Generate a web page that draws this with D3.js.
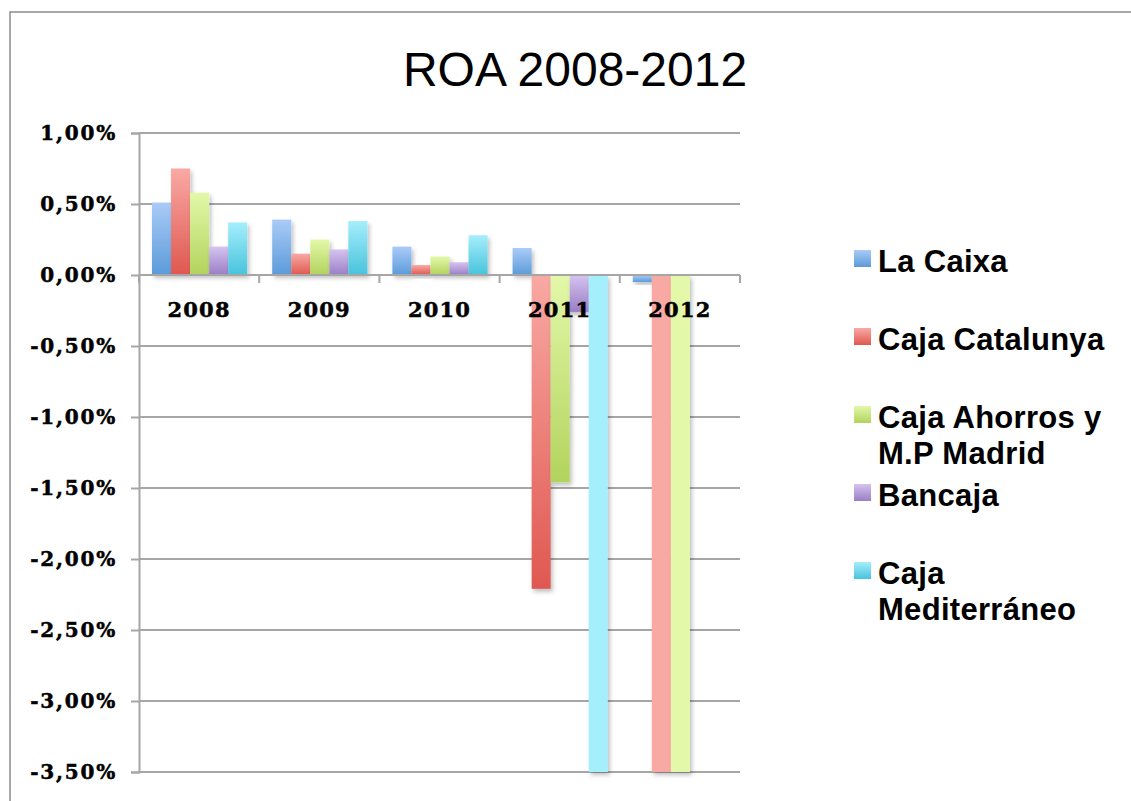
<!DOCTYPE html>
<html><head><meta charset="utf-8">
<script src="https://cdn.jsdelivr.net/npm/d3@7"></script>
<style>body{margin:0;background:#fff}</style>
</head><body>
<script>
const categories = ["2008","2009","2010","2011","2012"];
const seriesNames = ["La Caixa","Caja Catalunya","Caja Ahorros y M.P Madrid","Bancaja","Caja Mediterráneo"];
const legendLines = [["La Caixa"],["Caja Catalunya"],["Caja Ahorros y","M.P Madrid"],["Bancaja"],["Caja","Mediterráneo"]];
const laCaixa       = [0.51, 0.39, 0.20, 0.19, -0.05];
const cajaCatalunya = [0.75, 0.15, 0.07, -2.21, -3.5];
const cajaMadrid    = [0.58, 0.25, 0.13, -1.46, -3.5];
const bancaja       = [0.20, 0.18, 0.09, -0.26, null];
const cajaMed       = [0.37, 0.38, 0.28, -3.5, null];
const yTicks = [1, 0.5, 0, -0.5, -1, -1.5, -2, -2.5, -3, -3.5];
const seriesValues = [laCaixa, cajaCatalunya, cajaMadrid, bancaja, cajaMed];
const topColors = ["#aacbf8","#f9a9a4","#e3f8a9","#d5c3ef","#a5eefc"];
const botColors = ["#5b9bd9","#df5850","#b2d35d","#9a7ec5","#47c3dc"];

const W = 1131, H = 801;
const svg = d3.select("body").append("svg").attr("width", W).attr("height", H);
const defs = svg.append("defs");
seriesNames.forEach((s,i)=>{
  const g = defs.append("linearGradient").attr("id","g"+i).attr("x1",0).attr("y1",0).attr("x2",0).attr("y2",1);
  g.append("stop").attr("offset","0%").attr("stop-color",topColors[i]);
  g.append("stop").attr("offset","100%").attr("stop-color",botColors[i]);
});
const f = defs.append("filter").attr("id","sh").attr("x","-20%").attr("y","-20%").attr("width","160%").attr("height","160%");
f.append("feDropShadow").attr("dx",2).attr("dy",3).attr("stdDeviation",2).attr("flood-color","#000").attr("flood-opacity",0.25);

// outer frame
svg.append("rect").attr("x",10).attr("y",12).attr("width",W).attr("height",H).attr("fill","none").attr("stroke","#8c8c8c").attr("stroke-width",1.5);

// title
svg.append("text").attr("x",575).attr("y",86).attr("text-anchor","middle")
  .attr("font-family","Liberation Sans, Arial, sans-serif").attr("font-size",48).attr("fill","#000").text("ROA 2008-2012");

const x0 = 139, x1 = 740;
const y = d3.scaleLinear().domain([-3.5, 1]).range([772, 133]);
const xb = d3.scaleBand().domain(categories).range([x0, x1]);
const xs = d3.scaleBand().domain(seriesNames).range([13, xb.bandwidth()-12]);

// gridlines
svg.append("g").selectAll("line").data(yTicks).join("line")
  .attr("x1", x0).attr("x2", x1).attr("y1", d=>y(d)).attr("y2", d=>y(d))
  .attr("stroke","#a6a6a6").attr("stroke-width",2);

const serifFont = "'DejaVu Serif Bold', 'DejaVu Serif', serif";

// y axis
const yAxis = d3.axisLeft(y).tickValues(yTicks).tickSize(8).tickPadding(14)
  .tickFormat(d => (d < 0 ? "-" : "") + d3.format(".2f")(Math.abs(d)).replace(".",",") + "%");
const ya = svg.append("g").attr("transform",`translate(${x0},0)`).call(yAxis);
ya.attr("font-family", null).attr("font-size", null);
ya.select(".domain").attr("stroke","#a6a6a6").attr("stroke-width",2);
ya.selectAll(".tick line").attr("stroke","#a6a6a6").attr("stroke-width",2);
ya.selectAll(".tick text").style("font-family",serifFont).style("font-weight","900")
  .style("font-size","20px").style("letter-spacing","1.8px").attr("fill","#000")
  .attr("stroke","#000").attr("stroke-width",0.5);

// bars
const data = [];
categories.forEach((c,ci)=>seriesNames.forEach((s,si)=>{
  const v = seriesValues[si][ci];
  if (v !== null) data.push({c, s, si, v});
}));
svg.append("g").selectAll("rect").data(data).join("rect")
  .attr("x", d => xb(d.c) + xs(d.s))
  .attr("width", xs.bandwidth())
  .attr("y", d => y(Math.max(0, d.v)))
  .attr("height", d => Math.abs(y(d.v) - y(0)))
  .attr("fill", d => d.v <= y.domain()[0] ? topColors[d.si] : `url(#g${d.si})`)
  .attr("filter","url(#sh)");

// x axis line + ticks
const xa = svg.append("g");
xa.append("line").attr("x1",x0).attr("x2",x1).attr("y1",y(0)).attr("y2",y(0)).attr("stroke","#a6a6a6").attr("stroke-width",2);
xa.selectAll("line.t").data(categories.concat(["end"])).join("line").attr("class","t")
  .attr("x1",(d,i)=>x0+i*xb.bandwidth()).attr("x2",(d,i)=>x0+i*xb.bandwidth())
  .attr("y1",y(0)).attr("y2",y(0)+8).attr("stroke","#a6a6a6").attr("stroke-width",2);
xa.selectAll("text").data(categories).join("text")
  .attr("x", d => xb(d) + xb.bandwidth()/2).attr("y", y(0)+42).attr("text-anchor","middle")
  .style("font-family",serifFont).style("font-weight","900").style("font-size","21px")
  .style("letter-spacing","1.2px").attr("fill","#000").attr("stroke","#000").attr("stroke-width",0.5).text(d=>d);

// legend
const lg = svg.append("g");
legendLines.forEach((lines,i)=>{
  const top = 250 + i*78;
  lg.append("rect").attr("x",854).attr("y",top).attr("width",17).attr("height",17).attr("fill",`url(#g${i})`);
  lines.forEach((t,j)=>{
    lg.append("text").attr("x",878).attr("y",top+22+j*36)
      .attr("font-family","Liberation Sans, Arial, sans-serif").attr("font-weight","bold")
      .attr("font-size",31).attr("letter-spacing","0.3px").attr("fill","#000").text(t);
  });
});
</script>
</body></html>
